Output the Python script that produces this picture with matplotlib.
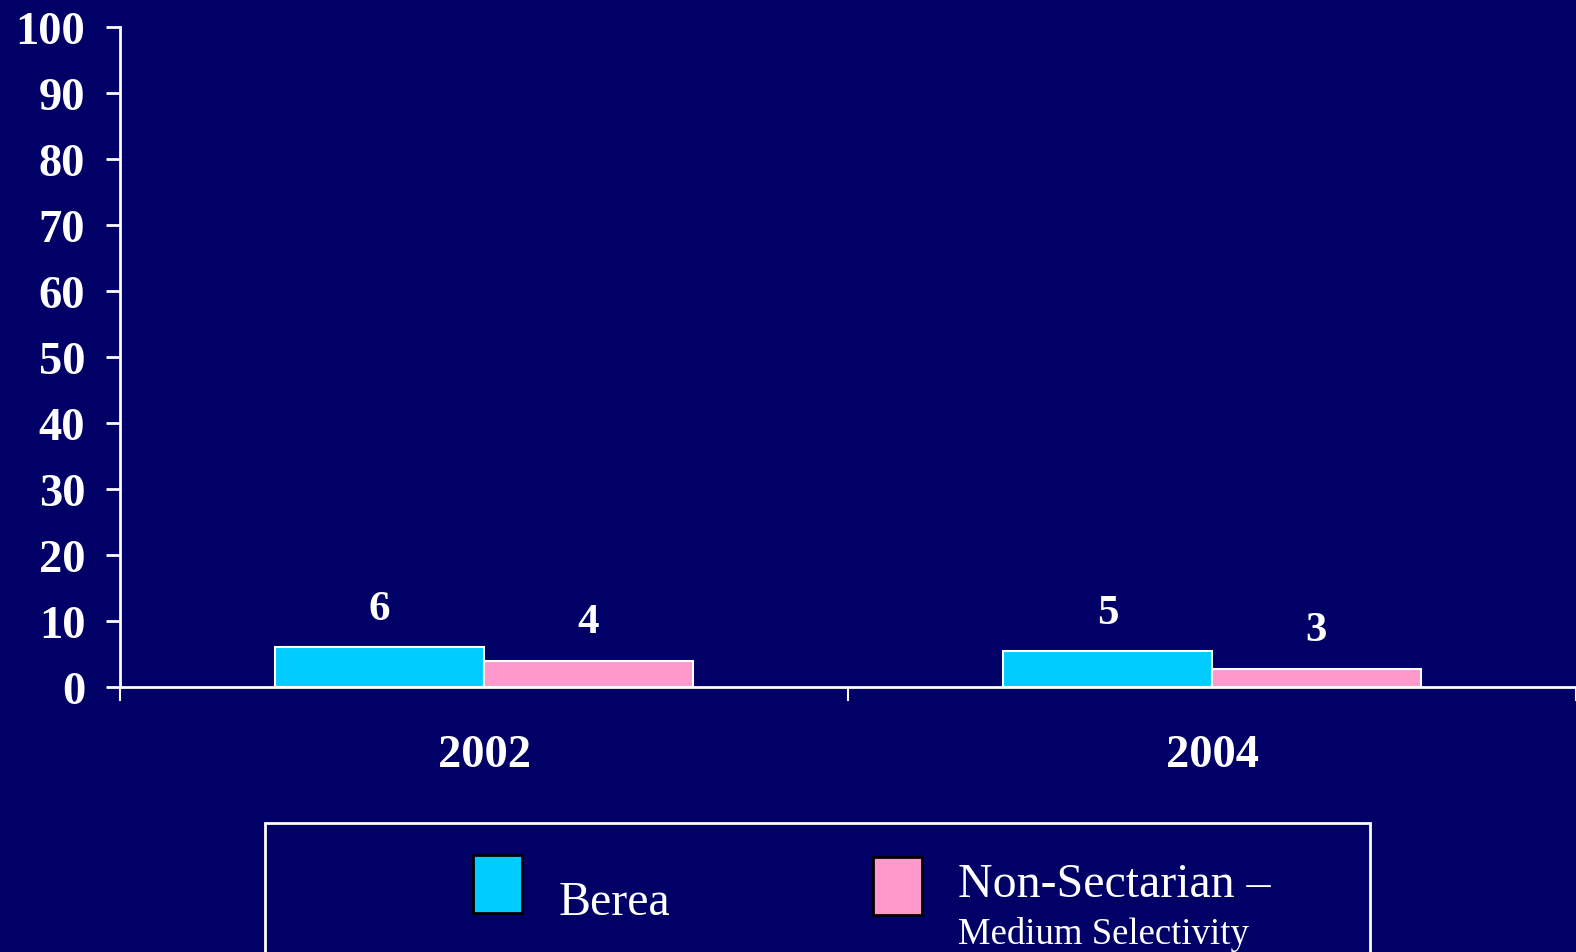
import matplotlib.pyplot as plt
from matplotlib.patches import Rectangle

years = ['2002', '2004']
berea = [6.0, 5.4]
nonsect = [4.0, 2.8]
berea_labels = ['6', '5']
nonsect_labels = ['4', '3']
legend_names = ['Berea', 'Non-Sectarian \u2013']
legend_sub = 'Medium Selectivity'

BG = '#000066'
CYAN = '#00CCFF'
PINK = '#FF99CC'
W, H = 1576, 953


def main():
    plt.rcParams['font.family'] = ['Liberation Serif', 'DejaVu Serif']
    fig = plt.figure(figsize=(W / 100, H / 100), dpi=100, facecolor=BG)
    ax = fig.add_axes([120 / W, 1 - 688 / H, 1 - 120 / W, (688 - 28) / H])
    ax.set_facecolor(BG)

    x = [i + 0.5 for i in range(len(years))]
    bw = 0.287
    b1 = ax.bar([v - bw / 2 for v in x], berea, bw, color=CYAN,
                edgecolor='white', linewidth=1.5)
    b2 = ax.bar([v + bw / 2 for v in x], nonsect, bw, color=PINK,
                edgecolor='white', linewidth=1.5)
    for cont, labs in ((b1, berea_labels), (b2, nonsect_labels)):
        ax.bar_label(cont, labels=labs, padding=14, fontsize=31,
                     fontweight='bold', color='white')

    ax.set_xlim(0, 2)
    ax.set_ylim(0, 100)
    ax.set_yticks(range(0, 101, 10))
    ax.set_xticks([0, 1, 2])
    ax.set_xticklabels([])
    ax.set_xticks(x, minor=True)
    ax.set_xticklabels(years, minor=True)

    for s in ('top', 'right'):
        ax.spines[s].set_visible(False)
    for s in ('left', 'bottom'):
        ax.spines[s].set_color('white')
        ax.spines[s].set_linewidth(2)

    ax.tick_params(axis='y', colors='white', length=10, width=2, pad=15,
                   labelsize=33.5)
    ax.tick_params(axis='x', which='major', colors='white', length=10,
                   width=1.5)
    ax.tick_params(axis='x', which='minor', length=0, pad=34, labelsize=33.5,
                   labelcolor='white')
    for lab in ax.get_yticklabels() + ax.get_xticklabels(minor=True):
        lab.set_fontweight('bold')

    # legend box, running off the bottom edge
    fig.add_artist(Rectangle((265 / W, -0.05), (1370 - 265) / W,
                             (953 - 824) / H + 0.05, transform=fig.transFigure,
                             fill=False, edgecolor='white', linewidth=2))
    swatches = [(473, 856, CYAN), (873, 858, PINK)]
    for (px, py, col) in swatches:
        fig.add_artist(Rectangle((px / W, 1 - (py + 58) / H), 49 / W, 58 / H,
                                 transform=fig.transFigure, facecolor=col,
                                 edgecolor='black', linewidth=2))
    fig.text(559 / W, 1 - 915 / H, legend_names[0], color='white',
             fontsize=34.5, va='baseline')
    fig.text(958 / W, 1 - 897 / H, legend_names[1], color='white',
             fontsize=34.5, va='baseline')
    fig.text(958 / W, 1 - 944 / H, legend_sub, color='white',
             fontsize=26.5, va='baseline')

    fig.savefig('out.png', dpi=100, facecolor=BG)


if __name__ == "__main__":
    main()
